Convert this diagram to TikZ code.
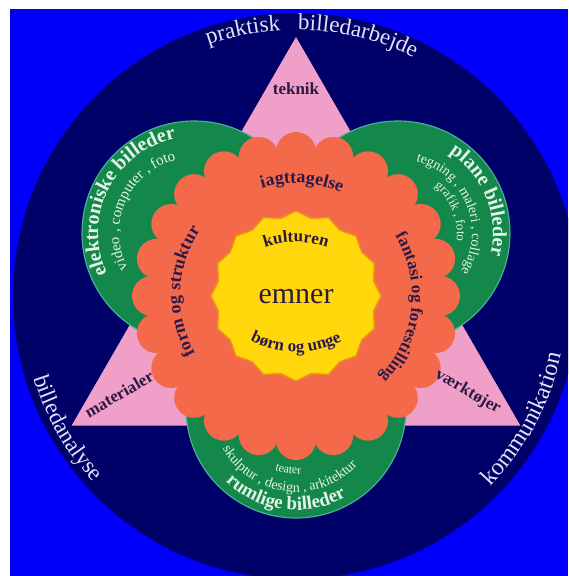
\documentclass[tikz,border=0pt]{standalone}
\usepackage{fontspec}
\setmainfont{Liberation Serif}
\usepackage{xcolor}
\usetikzlibrary{decorations.text,calc}

\definecolor{bluebg}{RGB}{0,0,250}
\definecolor{navyc}{RGB}{0,0,105}
\definecolor{pinktri}{RGB}{240,160,200}
\definecolor{greenc}{RGB}{20,135,75}
\definecolor{greenedge}{RGB}{70,175,150}
\definecolor{orangefl}{RGB}{245,105,75}
\definecolor{yellowc}{RGB}{255,215,10}
\definecolor{yellowedge}{RGB}{235,150,20}
\definecolor{textlight}{RGB}{225,228,245}
\definecolor{textgreen}{RGB}{228,245,232}
\definecolor{textdark}{RGB}{45,25,70}

\newcommand{\fsz}[1]{\fontsize{#1}{#1}\selectfont}

\begin{document}
\begin{tikzpicture}[x=1pt,y=1pt,
  arctext/.style={decorate,decoration={text along path,text align=center,text={#1}}},
  darklbl/.style={text=textdark,font=\bfseries\fsz{17}},
  greendisc/.style={fill=greenc,draw=greenedge,line width=1.2pt}]
  \useasboundingbox (-296,-280) rectangle (272,296);
  \fill[bluebg] (-286,-280) rectangle (272,287);
  \begin{scope}
    \clip (-286,-280) rectangle (272,287);
    \fill[navyc] (0,0) circle (283pt);
  \end{scope}
  % triangle and the three discs
  \fill[pinktri] (90:259) -- (210:259) -- (330:259) -- cycle;
  \filldraw[greendisc] (-102,63) circle (112pt);
  \filldraw[greendisc] (102,63) circle (112pt);
  \filldraw[greendisc] (0,-112) circle (110pt);
  % flower
  \fill[orangefl] (0,0) circle (144pt);
  \foreach \i in {0,...,23}
    \fill[orangefl] ({90+\i*15}:144) circle (20pt);
  % yellow centre
  \filldraw[fill=yellowc,draw=yellowedge,line width=1.5pt]
    (90:85) \foreach \i in {1,...,31} {-- ({90+\i*11.25}:{82+3*cos(\i*180)})} -- cycle;

  % outer ring
  \path[arctext={|\fsz{23}\color{textlight}|praktisk{\ }{\ }{\ }billedarbejde}]
    (146.5:266) arc[start angle=146.5,end angle=26.5,radius=266pt];
  \path[arctext={|\fsz{23}\color{textlight}|billedanalyse}]
    (180:275) arc[start angle=180,end angle=240,radius=275pt];
  \path[arctext={|\fsz{24}\color{textlight}|kommunikation}]
    (-58.4:272) arc[start angle=-58.4,end angle=1.6,radius=272pt];

  % triangle corners
  \node[darklbl] (teknik) at (0,207) {teknik};
  \node[darklbl,rotate=30] (materialer) at (-177,-98) {materialer};
  \node[darklbl,rotate=-30] (vaerktojer) at (172,-96) {værktøjer};

  % discs
  \begin{scope}[shift={(-102,63)}]
    \path[arctext={|\bfseries\fsz{20}\color{textgreen}|elektroniske billeder}]
      (225:96) arc[start angle=225,end angle=81,radius=96pt];
    \path[arctext={|\fsz{15}\color{textgreen}|video , computer , foto}]
      (228:75) arc[start angle=228,end angle=84,radius=75pt];
  \end{scope}
  \begin{scope}[shift={(102,63)}]
    \path[arctext={|\bfseries\fsz{20}\color{textgreen}|plane billeder}]
      (94:95) arc[start angle=94,end angle=-50,radius=95pt];
    \path[arctext={|\fsz{14}\color{textgreen}|tegning , maleri , collage}]
      (94:74) arc[start angle=94,end angle=-50,radius=74pt];
    \path[arctext={|\fsz{13}\color{textgreen}|grafik , foto}]
      (94:59) arc[start angle=94,end angle=-50,radius=59pt];
  \end{scope}
  \begin{scope}[shift={(0,-112)}]
    \path[arctext={|\bfseries\fsz{19}\color{textgreen}|rumlige billeder}]
      (193:102) arc[start angle=193,end angle=333,radius=102pt];
    \path[arctext={|\fsz{14}\color{textgreen}|skulptur , design , arkitektur}]
      (193:84) arc[start angle=193,end angle=333,radius=84pt];
    \path[arctext={|\fsz{12}\color{textgreen}|teater}]
      (223:66) arc[start angle=223,end angle=303,radius=66pt];
  \end{scope}

  % flower
  \path[arctext={|\bfseries\fsz{18}\color{textdark}|iagttagelse}]
    (147:113) arc[start angle=147,end angle=27,radius=113pt];
  \path[arctext={|\bfseries\fsz{18}\color{textdark}|form og struktur}]
    (247.5:116) arc[start angle=247.5,end angle=107.5,radius=116pt];
  \path[arctext={|\bfseries\fsz{17}\color{textdark}|fantasi og forestilling}]
    (63.6:116) arc[start angle=63.6,end angle=-76.4,radius=116pt];

  % centre
  \path[arctext={|\bfseries\fsz{17}\color{textdark}|kulturen}]
    ($(0,-40)+(130:94)$) arc[start angle=130,end angle=50,radius=94pt];
  \path[arctext={|\bfseries\fsz{17}\color{textdark}|børn og unge}]
    ($(0,44)+(220:100)$) arc[start angle=220,end angle=320,radius=100pt];
  \node[text=textdark,font=\fsz{30}] (emner) at (0,-1) {emner};
\end{tikzpicture}
\end{document}
